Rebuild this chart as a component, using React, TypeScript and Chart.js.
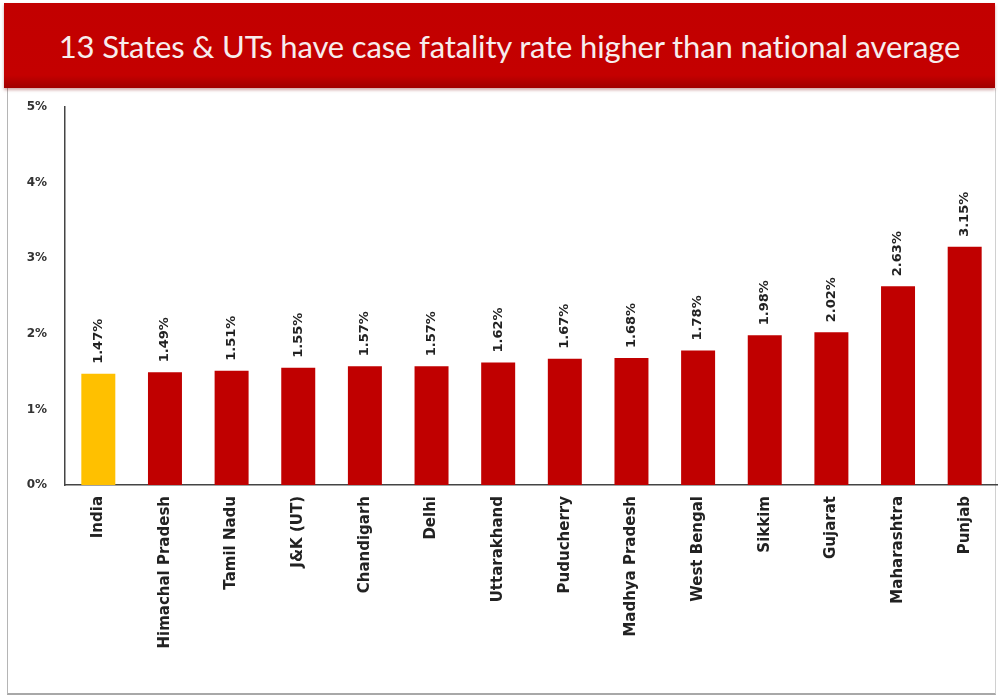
import React, { useEffect, useRef } from "react";
import { Chart, registerables } from "chart.js";

Chart.register(...registerables);

const TITLE = "13 States & UTs have case fatality rate higher than national average";
const categories = [
  "India",
  "Himachal Pradesh",
  "Tamil Nadu",
  "J&K (UT)",
  "Chandigarh",
  "Delhi",
  "Uttarakhand",
  "Puducherry",
  "Madhya Pradesh",
  "West Bengal",
  "Sikkim",
  "Gujarat",
  "Maharashtra",
  "Punjab",
];
const fatalityRate = [1.47, 1.49, 1.51, 1.55, 1.57, 1.57, 1.62, 1.67, 1.68, 1.78, 1.98, 2.02, 2.63, 3.15];
const yTicks = [0, 1, 2, 3, 4, 5];

const NATIONAL_COLOR = "#FFC000";
const STATE_COLOR = "#C00000";

const valueLabels = {
  id: "valueLabels",
  afterDatasetsDraw(chart: any) {
    const ctx = chart.ctx;
    const meta = chart.getDatasetMeta(0);
    const data = chart.data.datasets[0].data as number[];
    ctx.save();
    ctx.font = "bold 13px 'DejaVu Sans', sans-serif";
    ctx.fillStyle = "#222";
    ctx.textAlign = "left";
    ctx.textBaseline = "middle";
    meta.data.forEach((bar: any, i: number) => {
      ctx.save();
      ctx.translate(bar.x, bar.y - 10);
      ctx.rotate(-Math.PI / 2);
      ctx.fillText(data[i].toFixed(2) + "%", 0, 0);
      ctx.restore();
    });
    ctx.restore();
  },
};

export default function App() {
  const ref = useRef<HTMLCanvasElement | null>(null);
  useEffect(() => {
    document.body.style.margin = "0";
    if (!ref.current) return;
    const chart = new Chart(ref.current, {
      type: "bar",
      data: {
        labels: categories,
        datasets: [
          {
            data: fatalityRate,
            backgroundColor: categories.map((_, i) => (i === 0 ? NATIONAL_COLOR : STATE_COLOR)),
            categoryPercentage: 1,
            barPercentage: 0.51,
          },
        ],
      },
      options: {
        animation: false,
        responsive: false,
        maintainAspectRatio: false,
        layout: { padding: { top: 19, right: 0, left: 0, bottom: 0 } },
        plugins: { legend: { display: false }, tooltip: { enabled: false }, title: { display: false } },
        scales: {
          x: {
            grid: { display: false },
            border: { display: true, color: "#444", width: 1.5 },
            ticks: {
              minRotation: 90,
              maxRotation: 90,
              autoSkip: false,
              padding: 3,
              color: "#222",
              font: { family: "'DejaVu Sans', sans-serif", size: 15, weight: "bold" },
            },
            afterFit: (s: any) => {
              s.height = 213;
            },
          },
          y: {
            min: 0,
            max: 5,
            afterBuildTicks: (s: any) => {
              s.ticks = yTicks.map((v) => ({ value: v }));
            },
            grid: { display: false },
            border: { display: true, color: "#444", width: 1.5 },
            ticks: {
              padding: 10,
              color: "#333",
              font: { family: "'DejaVu Sans', sans-serif", size: 12, weight: "bold" },
              callback: (v: any) => v + "%",
            },
            afterFit: (s: any) => {
              s.width = 65;
            },
          },
        },
      },
      plugins: [valueLabels],
    });
    return () => chart.destroy();
  }, []);

  return (
    <div style={{ position: "absolute", left: 0, top: 0, width: 998, height: 698, background: "#fff", overflow: "hidden" }}>
      <div
        style={{
          position: "absolute",
          left: 7,
          top: 88,
          width: 987,
          height: 605,
          borderLeft: "1px solid #b5b5b5",
          borderRight: "1px solid #d0d0d0",
          borderBottom: "2px solid #a8a8a8",
        }}
      />
      <div
        style={{
          position: "absolute",
          left: 4,
          top: 3,
          width: 991,
          height: 85,
          background: "linear-gradient(#c20000, #c40000 85%, #a00000)",
          boxShadow: "0 2px 3px rgba(120,0,0,0.35)",
          display: "flex",
          alignItems: "center",
          justifyContent: "center",
          color: "#f7eded",
          fontFamily: "Lato, 'Open Sans', sans-serif",
          fontSize: 31,
          letterSpacing: -0.15,
          paddingLeft: 20,
          paddingBottom: 0,
          boxSizing: "border-box",
        }}
      >
        {TITLE}
      </div>
      <canvas ref={ref} width={998} height={610} style={{ position: "absolute", left: 0, top: 88 }} />
    </div>
  );
}
